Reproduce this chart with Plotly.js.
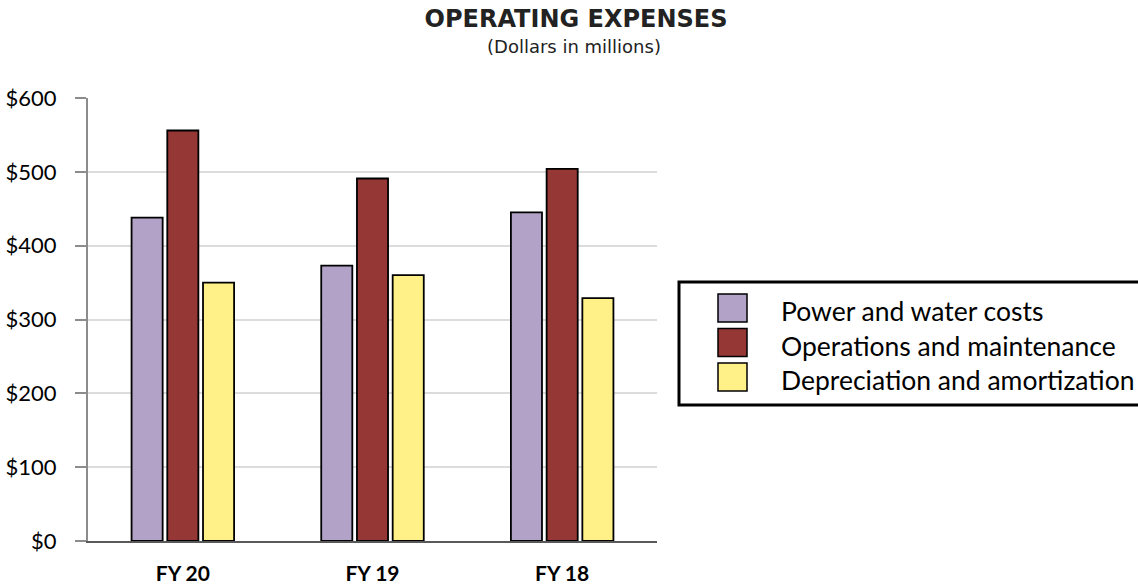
<!DOCTYPE html>
<html>
<head>
<meta charset="utf-8">
<script src="https://cdn.plot.ly/plotly-3.0.1.min.js"></script>
<style>html,body{margin:0;padding:0;background:#fff;}#chart{width:1138px;height:584px;}</style>
</head>
<body>
<div id="chart"></div>
<script>
// ---- data ----
const categories = ['FY 20', 'FY 19', 'FY 18'];
const seriesNames = ['Power and water costs', 'Operations and maintenance', 'Depreciation and amortization'];
const powerWater = [438, 373, 445];
const opsMaint = [556, 491, 504];
const deprAmort = [350, 360, 329];
const seriesValues = [powerWater, opsMaint, deprAmort];
const seriesColors = ['#B3A2C7', '#953735', '#FFF087'];
const yTickVals = [0, 100, 200, 300, 400, 500, 600];
const yTickText = ['$0', '$100', '$200', '$300', '$400', '$500', '$600'];

// ---- layout geometry ----
const W = 1138, H = 584;
const M = {l: 88, r: 481, t: 98, b: 43};
const pw = W - M.l - M.r, ph = H - M.t - M.b;
const px2x = px => (px - M.l) / pw;
const py2y = py => (H - M.b - py) / ph;
const bodyFont = 'Lato, "Open Sans", sans-serif';

const traces = seriesNames.map((n, i) => ({
  type: 'bar', name: n, x: categories, y: seriesValues[i],
  marker: {color: seriesColors[i], line: {color: '#000', width: 1.8}},
  hoverinfo: 'none', showlegend: false
}));

// manual legend (large swatches as in the reference)
const shapes = [{
  type: 'rect', xref: 'paper', yref: 'paper',
  x0: px2x(679), x1: px2x(1142), y0: py2y(282), y1: py2y(405),
  line: {color: '#000', width: 3}, fillcolor: 'rgba(0,0,0,0)'
}];
const annotations = [];
const rowTop = [294, 328.5, 363];
seriesNames.forEach((n, i) => {
  shapes.push({
    type: 'rect', xref: 'paper', yref: 'paper',
    x0: px2x(718), x1: px2x(747), y0: py2y(rowTop[i]), y1: py2y(rowTop[i] + 28),
    line: {color: '#000', width: 1.5}, fillcolor: seriesColors[i]
  });
  annotations.push({
    xref: 'paper', yref: 'paper', x: px2x(779), y: py2y(rowTop[i] + 17),
    xanchor: 'left', yanchor: 'middle', showarrow: false, text: n,
    font: {family: bodyFont, size: 26.5, color: '#000'}
  });
});
annotations.push({
  xref: 'paper', yref: 'paper', x: px2x(574), y: py2y(47), xanchor: 'center', yanchor: 'middle',
  showarrow: false, text: '(Dollars in millions)',
  font: {family: '"DejaVu Sans", sans-serif', size: 18, color: '#222'}
});

const layout = {
  width: W, height: H,
  margin: M,
  paper_bgcolor: '#fff', plot_bgcolor: '#fff',
  title: {
    text: '<b>OPERATING EXPENSES</b>', x: 576 / W, xanchor: 'center', y: 1 - 18.5 / H, yanchor: 'middle',
    font: {family: '"DejaVu Sans", sans-serif', size: 24, color: '#222'}
  },
  barmode: 'group', bargap: 0.435, bargroupgap: 0.13,
  xaxis: {
    type: 'category', showline: true, linecolor: '#595959', linewidth: 2,
    showgrid: false, ticks: '', zeroline: false,
    tickfont: {family: bodyFont, size: 21, color: '#000', weight: 'bold'},
    ticklabelstandoff: 13
  },
  yaxis: {
    range: [0, 600], tickvals: yTickVals, ticktext: yTickText,
    showline: true, linecolor: '#8c8c8c', linewidth: 2,
    ticks: 'outside', ticklen: 11, tickcolor: '#8c8c8c', tickwidth: 2,
    gridcolor: '#dcdcdc', gridwidth: 2, zeroline: false,
    tickfont: {family: bodyFont, size: 22, color: '#000'},
    ticklabelstandoff: 14
  },
  shapes: shapes, annotations: annotations, showlegend: false
};
Plotly.newPlot('chart', traces, layout, {displayModeBar: false, staticPlot: true});
</script>
</body>
</html>
